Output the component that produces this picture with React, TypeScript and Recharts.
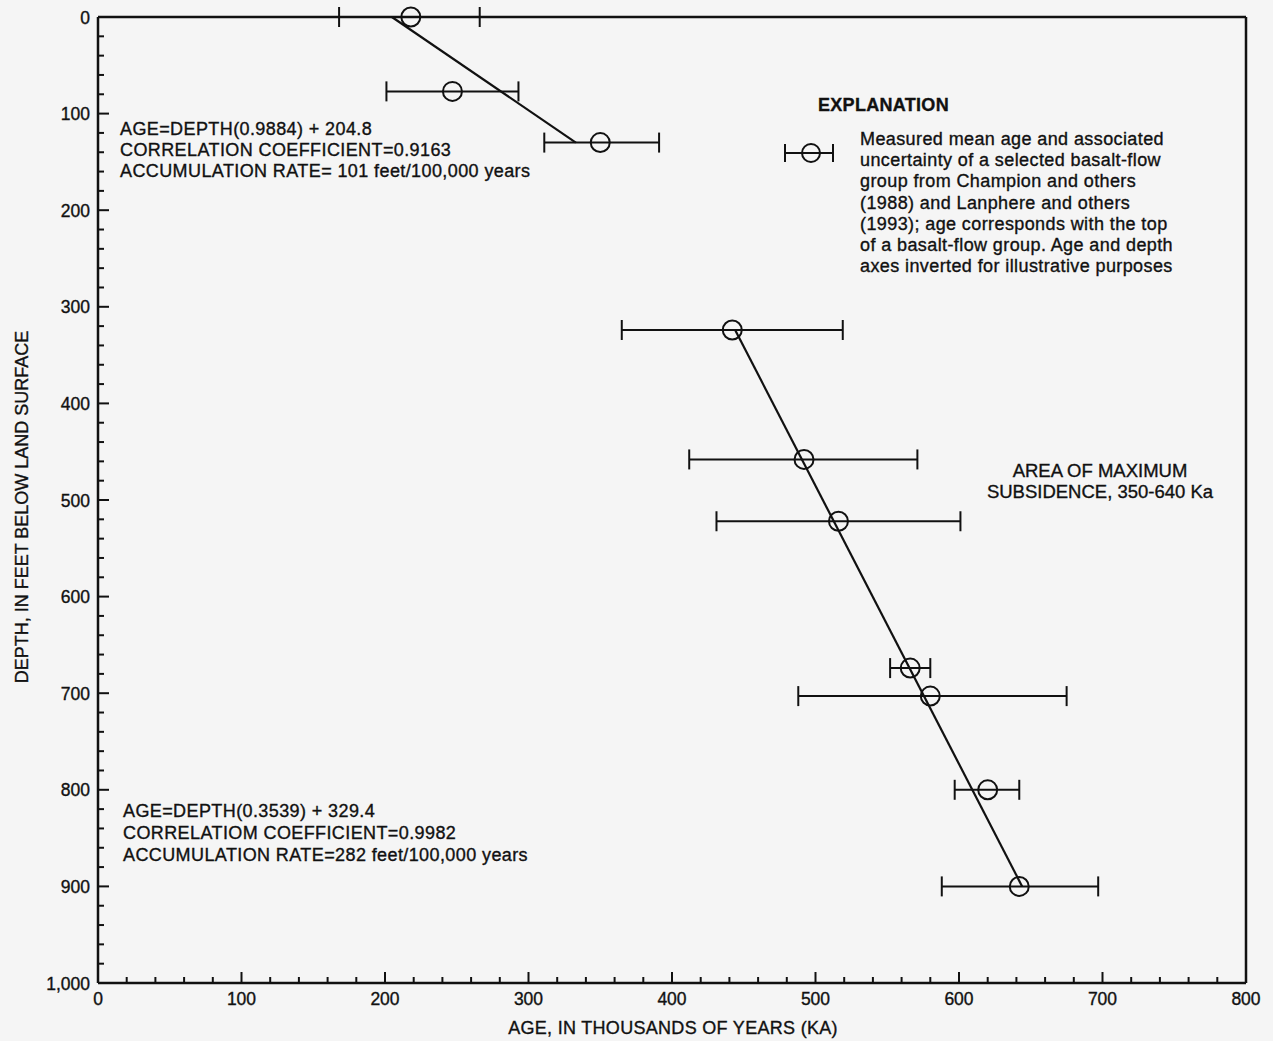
import React from "react";
import { ScatterChart, Scatter, XAxis, YAxis, ErrorBar } from "recharts";

// Measured basalt-flow groups (age in Ka, depth in feet)
const ages = [218, 247, 350, 442, 492, 516, 566, 580, 620, 642];
const depths = [0, 77, 130, 324, 458, 522, 674, 703, 800, 900];
const ageLow = [168, 201, 311, 365, 412, 431, 552, 488, 597, 588];
const ageHigh = [266, 293, 391, 519, 571, 601, 580, 675, 642, 697];

// Regression line endpoints
const upperFitAges = [204.8, 333];
const upperFitDepths = [0, 130];
const lowerFitAges = [444, 644];
const lowerFitDepths = [324, 900];

const xMajorTicks = [0, 100, 200, 300, 400, 500, 600, 700, 800];
const yMajorTicks = [0, 100, 200, 300, 400, 500, 600, 700, 800, 900, 1000];
const minorStep = 20;

const FONT = '"Liberation Sans", Arial, Helvetica, sans-serif';
const INK = "#111";
const BG = "#f5f5f5";

const points = ages.map((a, i) => ({
  age: a,
  depth: depths[i],
  err: [a - ageLow[i], ageHigh[i] - a],
}));
const upperFit = upperFitAges.map((a, i) => ({ age: a, depth: upperFitDepths[i] }));
const lowerFit = lowerFitAges.map((a, i) => ({ age: a, depth: lowerFitDepths[i] }));

const range = (max: number, step: number) => {
  const out: number[] = [];
  for (let v = 0; v <= max; v += step) out.push(v);
  return out;
};
const xTicks = range(xMajorTicks[xMajorTicks.length - 1], minorStep);
const yTicks = range(yMajorTicks[yMajorTicks.length - 1], minorStep);

const fmt = (v: number) => v.toLocaleString("en-US");

const makeTick = (side: "bottom" | "top" | "left" | "right", labels: boolean) => (props: any) => {
  const { x, y, payload } = props;
  const v = payload.value as number;
  const major = v % 100 === 0;
  const len = major ? 11 : 6;
  let line;
  if (side === "bottom") line = <line x1={x} y1={y} x2={x} y2={y - len} stroke={INK} strokeWidth={2} />;
  else if (side === "top") line = <line x1={x} y1={y} x2={x} y2={y + len} stroke={INK} strokeWidth={2} />;
  else if (side === "left") line = <line x1={x} y1={y} x2={x + len} y2={y} stroke={INK} strokeWidth={2} />;
  else line = <line x1={x} y1={y} x2={x - len} y2={y} stroke={INK} strokeWidth={2} />;
  let label = null;
  if (labels && major) {
    const common = {
      fontFamily: FONT,
      fontSize: 17.5,
      fill: INK,
      stroke: INK,
      strokeWidth: 0.35,
    };
    if (side === "bottom")
      label = (
        <text x={x} y={y + 22} textAnchor="middle" {...common}>
          {fmt(v)}
        </text>
      );
    else if (side === "left")
      label = (
        <text x={x - 8} y={y + 6.5} textAnchor="end" {...common}>
          {fmt(v)}
        </text>
      );
  }
  return (
    <g>
      {line}
      {label}
    </g>
  );
};

const Ring = (props: any) => (
  <circle cx={props.cx} cy={props.cy} r={9.5} fill="none" stroke={INK} strokeWidth={2} />
);
const NoShape = () => <g />;

const textStyle: React.CSSProperties = {
  position: "absolute",
  fontFamily: FONT,
  color: INK,
  whiteSpace: "nowrap",
  WebkitTextStroke: "0.35px #111",
};

export default function App() {
  return (
    <div style={{ position: "relative", width: 1273, height: 1041, background: BG, overflow: "hidden" }}>
      <style>{`html,body{margin:0;padding:0;background:${BG};}`}</style>
      <ScatterChart width={1273} height={1041} margin={{ top: 16, right: 26, bottom: 57, left: 0 }}>
        <XAxis
          xAxisId="b"
          type="number"
          dataKey="age"
          domain={[0, 800]}
          ticks={xTicks}
          interval={0}
          orientation="bottom"
          height={1}
          tickSize={0}
          tickMargin={0}
          axisLine={{ stroke: INK, strokeWidth: 2.5 }}
          tickLine={false}
          tick={makeTick("bottom", true)}
        />
        <XAxis
          xAxisId="t"
          type="number"
          dataKey="age"
          domain={[0, 800]}
          ticks={xTicks}
          interval={0}
          orientation="top"
          height={1}
          tickSize={0}
          tickMargin={0}
          axisLine={{ stroke: INK, strokeWidth: 2.5 }}
          tickLine={false}
          tick={makeTick("top", false)}
        />
        <YAxis
          yAxisId="l"
          type="number"
          dataKey="depth"
          domain={[0, 1000]}
          reversed
          ticks={yTicks}
          interval={0}
          orientation="left"
          width={98}
          tickSize={0}
          tickMargin={0}
          axisLine={{ stroke: INK, strokeWidth: 2.5 }}
          tickLine={false}
          tick={makeTick("left", true)}
        />
        <YAxis
          yAxisId="r"
          type="number"
          dataKey="depth"
          domain={[0, 1000]}
          reversed
          ticks={yTicks}
          interval={0}
          orientation="right"
          width={1}
          tickSize={0}
          tickMargin={0}
          axisLine={{ stroke: INK, strokeWidth: 2.5 }}
          tickLine={false}
          tick={makeTick("right", false)}
        />
        <Scatter
          xAxisId="b"
          yAxisId="l"
          data={upperFit}
          shape={NoShape}
          line={{ stroke: INK, strokeWidth: 2.2 }}
          isAnimationActive={false}
        />
        <Scatter
          xAxisId="b"
          yAxisId="l"
          data={lowerFit}
          shape={NoShape}
          line={{ stroke: INK, strokeWidth: 2.2 }}
          isAnimationActive={false}
        />
        <Scatter xAxisId="b" yAxisId="l" data={points} shape={Ring} isAnimationActive={false}>
          <ErrorBar dataKey="err" direction="x" width={10} stroke={INK} strokeWidth={2} isAnimationActive={false} />
        </Scatter>
      </ScatterChart>

      {/* Axis titles */}
      <div
        style={{
          ...textStyle,
          left: 673,
          top: 1018,
          fontSize: 18,
          lineHeight: "21px",
          letterSpacing: 0.3,
          transform: "translateX(-50%)",
        }}
      >
        AGE, IN THOUSANDS OF YEARS (KA)
      </div>
      <div
        style={{
          ...textStyle,
          left: 22,
          top: 507,
          fontSize: 18,
          lineHeight: "21px",
          transform: "translate(-50%, -50%) rotate(-90deg)",
        }}
      >
        DEPTH, IN FEET BELOW LAND SURFACE
      </div>

      {/* Regression annotations */}
      <div style={{ ...textStyle, left: 120, top: 119, fontSize: 18, lineHeight: "21px", letterSpacing: 0.4 }}>
        AGE=DEPTH(0.9884) + 204.8
        <br />
        CORRELATION COEFFICIENT=0.9163
        <br />
        ACCUMULATION RATE= 101 feet/100,000 years
      </div>
      <div style={{ ...textStyle, left: 123, top: 800, fontSize: 18, lineHeight: "22px", letterSpacing: 0.4 }}>
        AGE=DEPTH(0.3539) + 329.4
        <br />
        CORRELATIOM COEFFICIENT=0.9982
        <br />
        ACCUMULATION RATE=282 feet/100,000 years
      </div>

      {/* Explanation */}
      <div style={{ ...textStyle, left: 818, top: 95, fontSize: 18, fontWeight: "bold", letterSpacing: 0.3 }}>
        EXPLANATION
      </div>
      <svg style={{ position: "absolute", left: 775, top: 138 }} width={70} height={30}>
        <line x1={10} y1={15} x2={58} y2={15} stroke={INK} strokeWidth={2} />
        <line x1={10} y1={6} x2={10} y2={24} stroke={INK} strokeWidth={2} />
        <line x1={58} y1={6} x2={58} y2={24} stroke={INK} strokeWidth={2} />
        <circle cx={36} cy={15} r={9} fill="none" stroke={INK} strokeWidth={2} />
      </svg>
      <div style={{ ...textStyle, left: 860, top: 129, fontSize: 18, lineHeight: "21.2px", letterSpacing: 0.4 }}>
        Measured mean age and associated
        <br />
        uncertainty of a selected basalt-flow
        <br />
        group from Champion and others
        <br />
        (1988) and Lanphere and others
        <br />
        (1993); age corresponds with the top
        <br />
        of a basalt-flow group. Age and depth
        <br />
        axes inverted for illustrative purposes
      </div>

      <div
        style={{
          ...textStyle,
          left: 1100,
          top: 460,
          transform: "translateX(-50%)",
          textAlign: "center",
          fontSize: 18.5,
          lineHeight: "21px",
        }}
      >
        AREA OF MAXIMUM
        <br />
        SUBSIDENCE, 350-640 Ka
      </div>
    </div>
  );
}
